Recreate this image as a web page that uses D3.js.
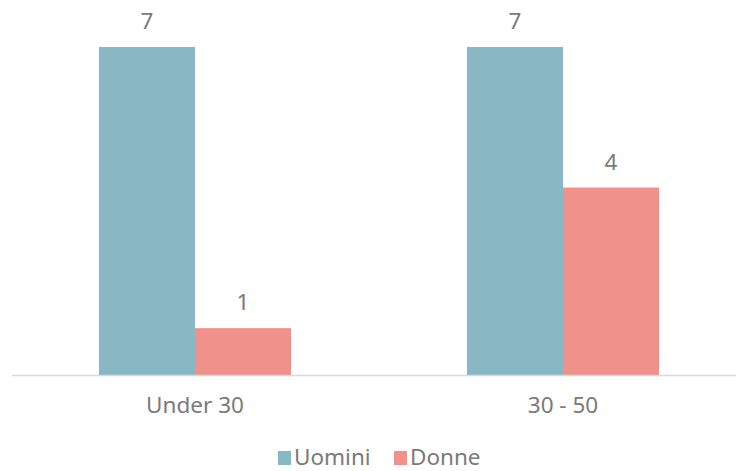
<!DOCTYPE html>
<html lang="it">
<head>
  <meta charset="UTF-8" />
  <title>Uomini / Donne per età</title>
  <script src="https://d3js.org/d3.v7.min.js"></script>
  <style>
    body { margin: 0; background: #fff; }
    svg { display: block; font-family: "Noto Sans", sans-serif; }
    .lbl { fill: #7a7a7a; font-size: 22.5px; }
  </style>
</head>
<body>
<svg id="chart" width="736" height="471"></svg>
<script>
// data
const categories = ["Under 30", "30 - 50"];
const series = ["Uomini", "Donne"];
const uomini = [7, 7];
const donne = [1, 4];
const colors = ["#89b8c4", "#f0918c"];

const svg = d3.select("#chart");
const baseY = 375;

const x = d3.scaleBand().domain(categories).range([11, 747])
  .paddingInner(0.478).paddingOuter(0.239);
const xs = d3.scaleBand().domain(series).range([0, x.bandwidth()]);
const y = d3.scaleLinear().domain([0, 7]).range([baseY, 47]);

const rows = categories.map((c, i) => ({ cat: c, vals: [uomini[i], donne[i]] }));

const g = svg.selectAll(".grp").data(rows).enter().append("g")
  .attr("transform", d => `translate(${x(d.cat)},0)`);

g.selectAll("rect").data(d => d.vals.map((v, j) => ({ s: series[j], v, j })))
  .enter().append("rect")
  .attr("x", d => xs(d.s))
  .attr("width", xs.bandwidth())
  .attr("y", d => y(d.v))
  .attr("height", d => baseY - y(d.v))
  .attr("fill", d => colors[d.j]);

g.selectAll(".val").data(d => d.vals.map((v, j) => ({ s: series[j], v })))
  .enter().append("text")
  .attr("class", "lbl")
  .attr("text-anchor", "middle")
  .attr("x", d => xs(d.s) + xs.bandwidth() / 2)
  .attr("y", d => y(d.v) - 18)
  .text(d => d.v);

// axis
svg.append("line").attr("x1", 12).attr("x2", 736)
  .attr("y1", baseY + 0.5).attr("y2", baseY + 0.5)
  .attr("stroke", "#d9d9d9").attr("stroke-width", 1.5);

svg.selectAll(".cat").data(categories).enter().append("text")
  .attr("class", "lbl")
  .attr("text-anchor", "middle")
  .attr("x", d => x(d) + x.bandwidth() / 2)
  .attr("y", 413)
  .text(d => d);

// legend
const leg = [{ s: "Uomini", x: 278 }, { s: "Donne", x: 394 }];
const lg = svg.selectAll(".leg").data(leg).enter().append("g")
  .attr("transform", d => `translate(${d.x},0)`);
lg.append("rect").attr("y", 451).attr("width", 13).attr("height", 14)
  .attr("fill", (d, i) => colors[i]);
lg.append("text").attr("class", "lbl").attr("x", 16).attr("y", 465).text(d => d.s);
</script>
</body>
</html>
